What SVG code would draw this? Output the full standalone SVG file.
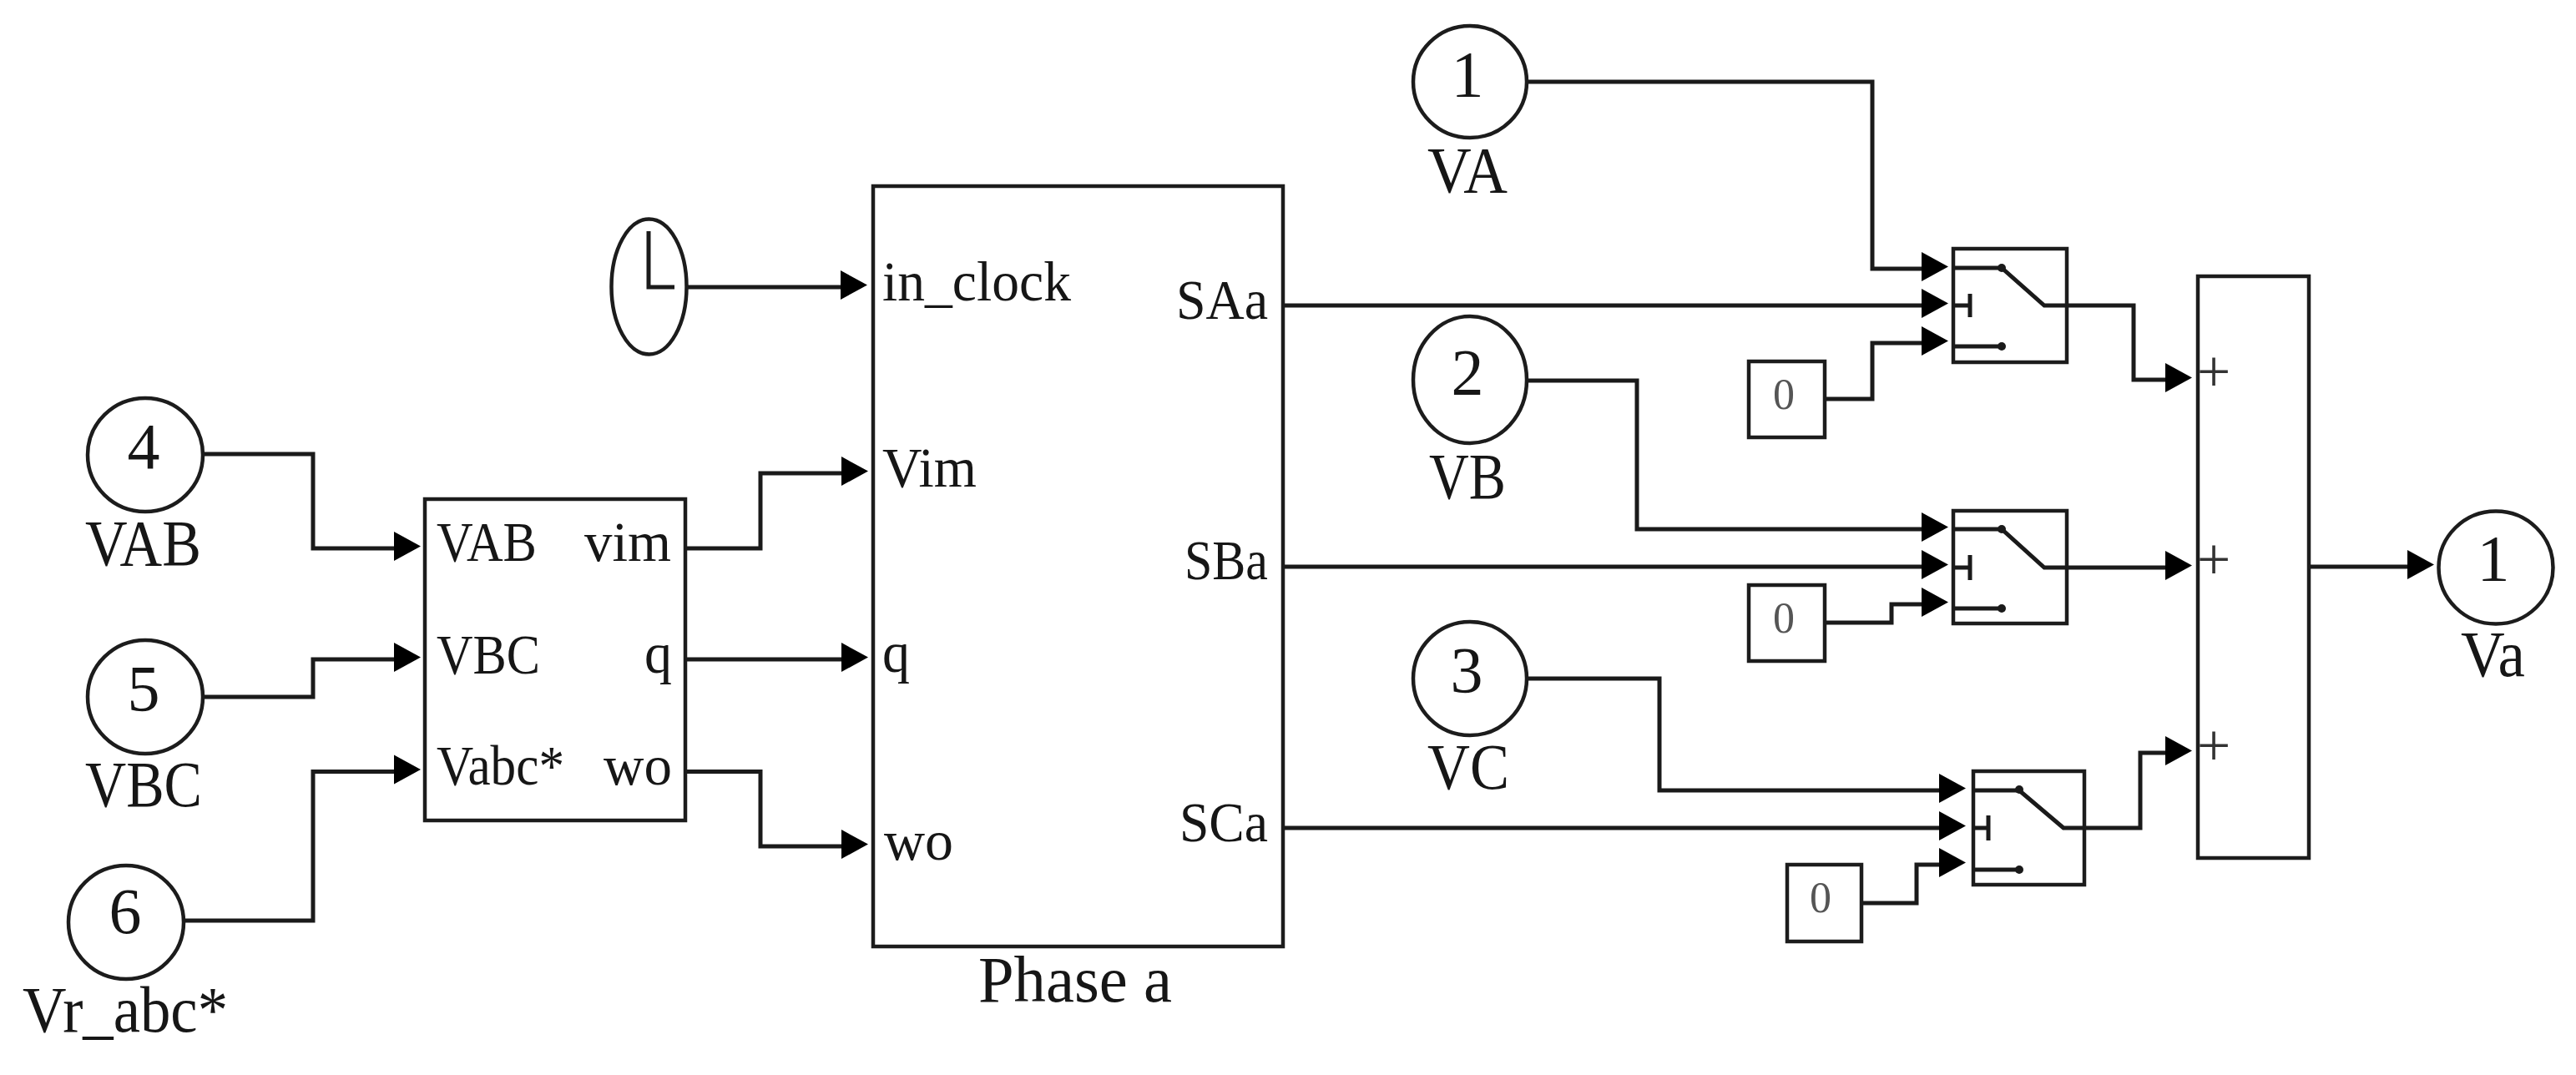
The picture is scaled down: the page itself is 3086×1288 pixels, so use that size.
<svg xmlns="http://www.w3.org/2000/svg" width="3086" height="1288" viewBox="0 0 3086 1288">
<style>
.b{fill:#fff;stroke:#1c1c1c;stroke-width:4.5}
.c{fill:none;stroke:#1a1a1a;stroke-width:5}
.w{fill:none;stroke:#1a1a1a;stroke-width:5;marker-end:url(#h)}
.k{fill:#1a1a1a}
text{font-family:"Liberation Serif","Times New Roman",serif;fill:#161616}
.l{font-size:78px}
.p{font-size:68px}
.d{font-size:78px;text-anchor:middle}
.z{font-size:52px;text-anchor:middle;fill:#555}
.s{font-size:72px;text-anchor:middle;fill:#333}
</style>
<defs>
<marker id="h" markerUnits="userSpaceOnUse" viewBox="0 0 32 36" markerWidth="32" markerHeight="36" refX="22" refY="20" orient="auto" overflow="visible"><polygon points="0,0 32,17.500 0,35" fill="#000"/></marker>
</defs>
<rect width="3086" height="1288" fill="#fff"/>

<g id="connectors">
<path class="w" d="M1829 98H2243V322H2324"/>
<path class="w" d="M1537 366H2324"/>
<path class="w" d="M2186 478H2243V411H2324"/>
<path class="w" d="M1829 456H1961V634H2324"/>
<path class="w" d="M1537 679H2324"/>
<path class="w" d="M2186 746H2266V724H2324"/>
<path class="w" d="M1829 813H1988V947H2345"/>
<path class="w" d="M1537 992H2345"/>
<path class="w" d="M2230 1082H2296V1036H2345"/>
<path class="w" d="M2476 366H2556V455H2616"/>
<path class="w" d="M2476 680H2616"/>
<path class="w" d="M2497 992H2564V902H2616"/>
<path class="w" d="M2766 679H2906"/>
<path class="w" d="M823 344H1029"/>
<path class="w" d="M821 657H911V567H1030"/>
<path class="w" d="M821 790H1030"/>
<path class="w" d="M821 924.500H911V1014H1030"/>
<path class="w" d="M242 544H375V657H494"/>
<path class="w" d="M242 835H375V790H494"/>
<path class="w" d="M220 1103H375V924.500H494"/>
</g>

<g id="clock">
<ellipse class="b" cx="777.500" cy="343.500" rx="45" ry="81"/>
<path class="c" d="M777 277V344H808"/>
</g>

<g id="in4"><ellipse class="b" cx="174" cy="545" rx="69" ry="68"/><text class="d" x="172" y="561">4</text><text class="l" x="102" y="677" textLength="139" lengthAdjust="spacingAndGlyphs">VAB</text></g>
<g id="in5"><ellipse class="b" cx="174" cy="835" rx="69" ry="68"/><text class="d" x="172" y="851">5</text><text class="l" x="102" y="966" textLength="140" lengthAdjust="spacingAndGlyphs">VBC</text></g>
<g id="in6"><ellipse class="b" cx="151" cy="1105" rx="69" ry="68"/><text class="d" x="150" y="1118">6</text><text class="l" x="27" y="1236" textLength="246" lengthAdjust="spacingAndGlyphs">Vr_abc*</text></g>

<g id="ref-block">
<rect class="b" x="509" y="598" width="312" height="385"/>
<text class="p" x="523" y="672" textLength="120" lengthAdjust="spacingAndGlyphs">VAB</text>
<text class="p" x="523" y="807" textLength="124" lengthAdjust="spacingAndGlyphs">VBC</text>
<text class="p" x="523" y="940" textLength="153" lengthAdjust="spacingAndGlyphs">Vabc*</text>
<text class="p" x="700" y="672" textLength="104" lengthAdjust="spacingAndGlyphs">vim</text>
<text class="p" x="772" y="806" textLength="33" lengthAdjust="spacingAndGlyphs">q</text>
<text class="p" x="723" y="940" textLength="82" lengthAdjust="spacingAndGlyphs">wo</text>
</g>

<g id="phase-a">
<rect class="b" x="1046" y="223" width="491" height="911"/>
<text class="p" x="1057" y="360" textLength="226" lengthAdjust="spacingAndGlyphs">in_clock</text>
<text class="p" x="1057" y="583" textLength="113" lengthAdjust="spacingAndGlyphs">Vim</text>
<text class="p" x="1057" y="805" textLength="33" lengthAdjust="spacingAndGlyphs">q</text>
<text class="p" x="1059" y="1030" textLength="83" lengthAdjust="spacingAndGlyphs">wo</text>
<text class="p" x="1409" y="382" textLength="110" lengthAdjust="spacingAndGlyphs">SAa</text>
<text class="p" x="1419" y="694" textLength="100" lengthAdjust="spacingAndGlyphs">SBa</text>
<text class="p" x="1413" y="1008" textLength="106" lengthAdjust="spacingAndGlyphs">SCa</text>
<text class="l" x="1172" y="1200" textLength="232" lengthAdjust="spacingAndGlyphs">Phase a</text>
</g>

<g id="in1"><ellipse class="b" cx="1761" cy="98" rx="68" ry="67"/><text class="d" x="1758" y="115">1</text><text class="l" x="1710" y="230" textLength="96" lengthAdjust="spacingAndGlyphs">VA</text></g>
<g id="in2"><ellipse class="b" cx="1761" cy="455" rx="68" ry="76"/><text class="d" x="1758" y="472">2</text><text class="l" x="1712" y="597" textLength="92" lengthAdjust="spacingAndGlyphs">VB</text></g>
<g id="in3"><ellipse class="b" cx="1761" cy="813" rx="68" ry="68"/><text class="d" x="1757" y="829">3</text><text class="l" x="1710" y="945" textLength="98" lengthAdjust="spacingAndGlyphs">VC</text></g>

<g id="const1"><rect class="b" x="2095" y="433" width="91" height="91"/><text class="z" x="2137" y="490">0</text></g>
<g id="const2"><rect class="b" x="2095" y="701" width="91" height="91"/><text class="z" x="2137" y="758">0</text></g>
<g id="const3"><rect class="b" x="2141" y="1036" width="89" height="92"/><text class="z" x="2181" y="1093">0</text></g>

<g id="switch1">
<rect class="b" x="2340" y="298" width="136" height="136"/>
<path class="c" d="M2340 321H2398L2449 366H2476M2340 366H2360M2360 352V380M2340 415H2398"/>
<circle class="k" cx="2398" cy="321" r="5"/><circle class="k" cx="2398" cy="415" r="5"/>
</g>
<g id="switch2">
<rect class="b" x="2340" y="612" width="136" height="135"/>
<path class="c" d="M2340 634H2398L2449 680H2476M2340 680H2360M2360 665V695M2340 729H2398"/>
<circle class="k" cx="2398" cy="634" r="5"/><circle class="k" cx="2398" cy="729" r="5"/>
</g>
<g id="switch3">
<rect class="b" x="2364" y="924" width="133" height="136"/>
<path class="c" d="M2364 947H2419L2472 992H2497M2364 992H2382M2382 977V1007M2364 1042H2419"/>
<circle class="k" cx="2419" cy="946" r="5"/><circle class="k" cx="2419" cy="1042" r="5"/>
</g>

<g id="sum">
<rect class="b" x="2633" y="331" width="133" height="697"/>
<text class="s" x="2652" y="469">+</text>
<text class="s" x="2652" y="694">+</text>
<text class="s" x="2652" y="917">+</text>
</g>

<g id="out1"><ellipse class="b" cx="2990" cy="680" rx="68.500" ry="67.500"/><text class="d" x="2987" y="695">1</text><text class="l" x="2948" y="810" textLength="77" lengthAdjust="spacingAndGlyphs">Va</text></g>
</svg>
